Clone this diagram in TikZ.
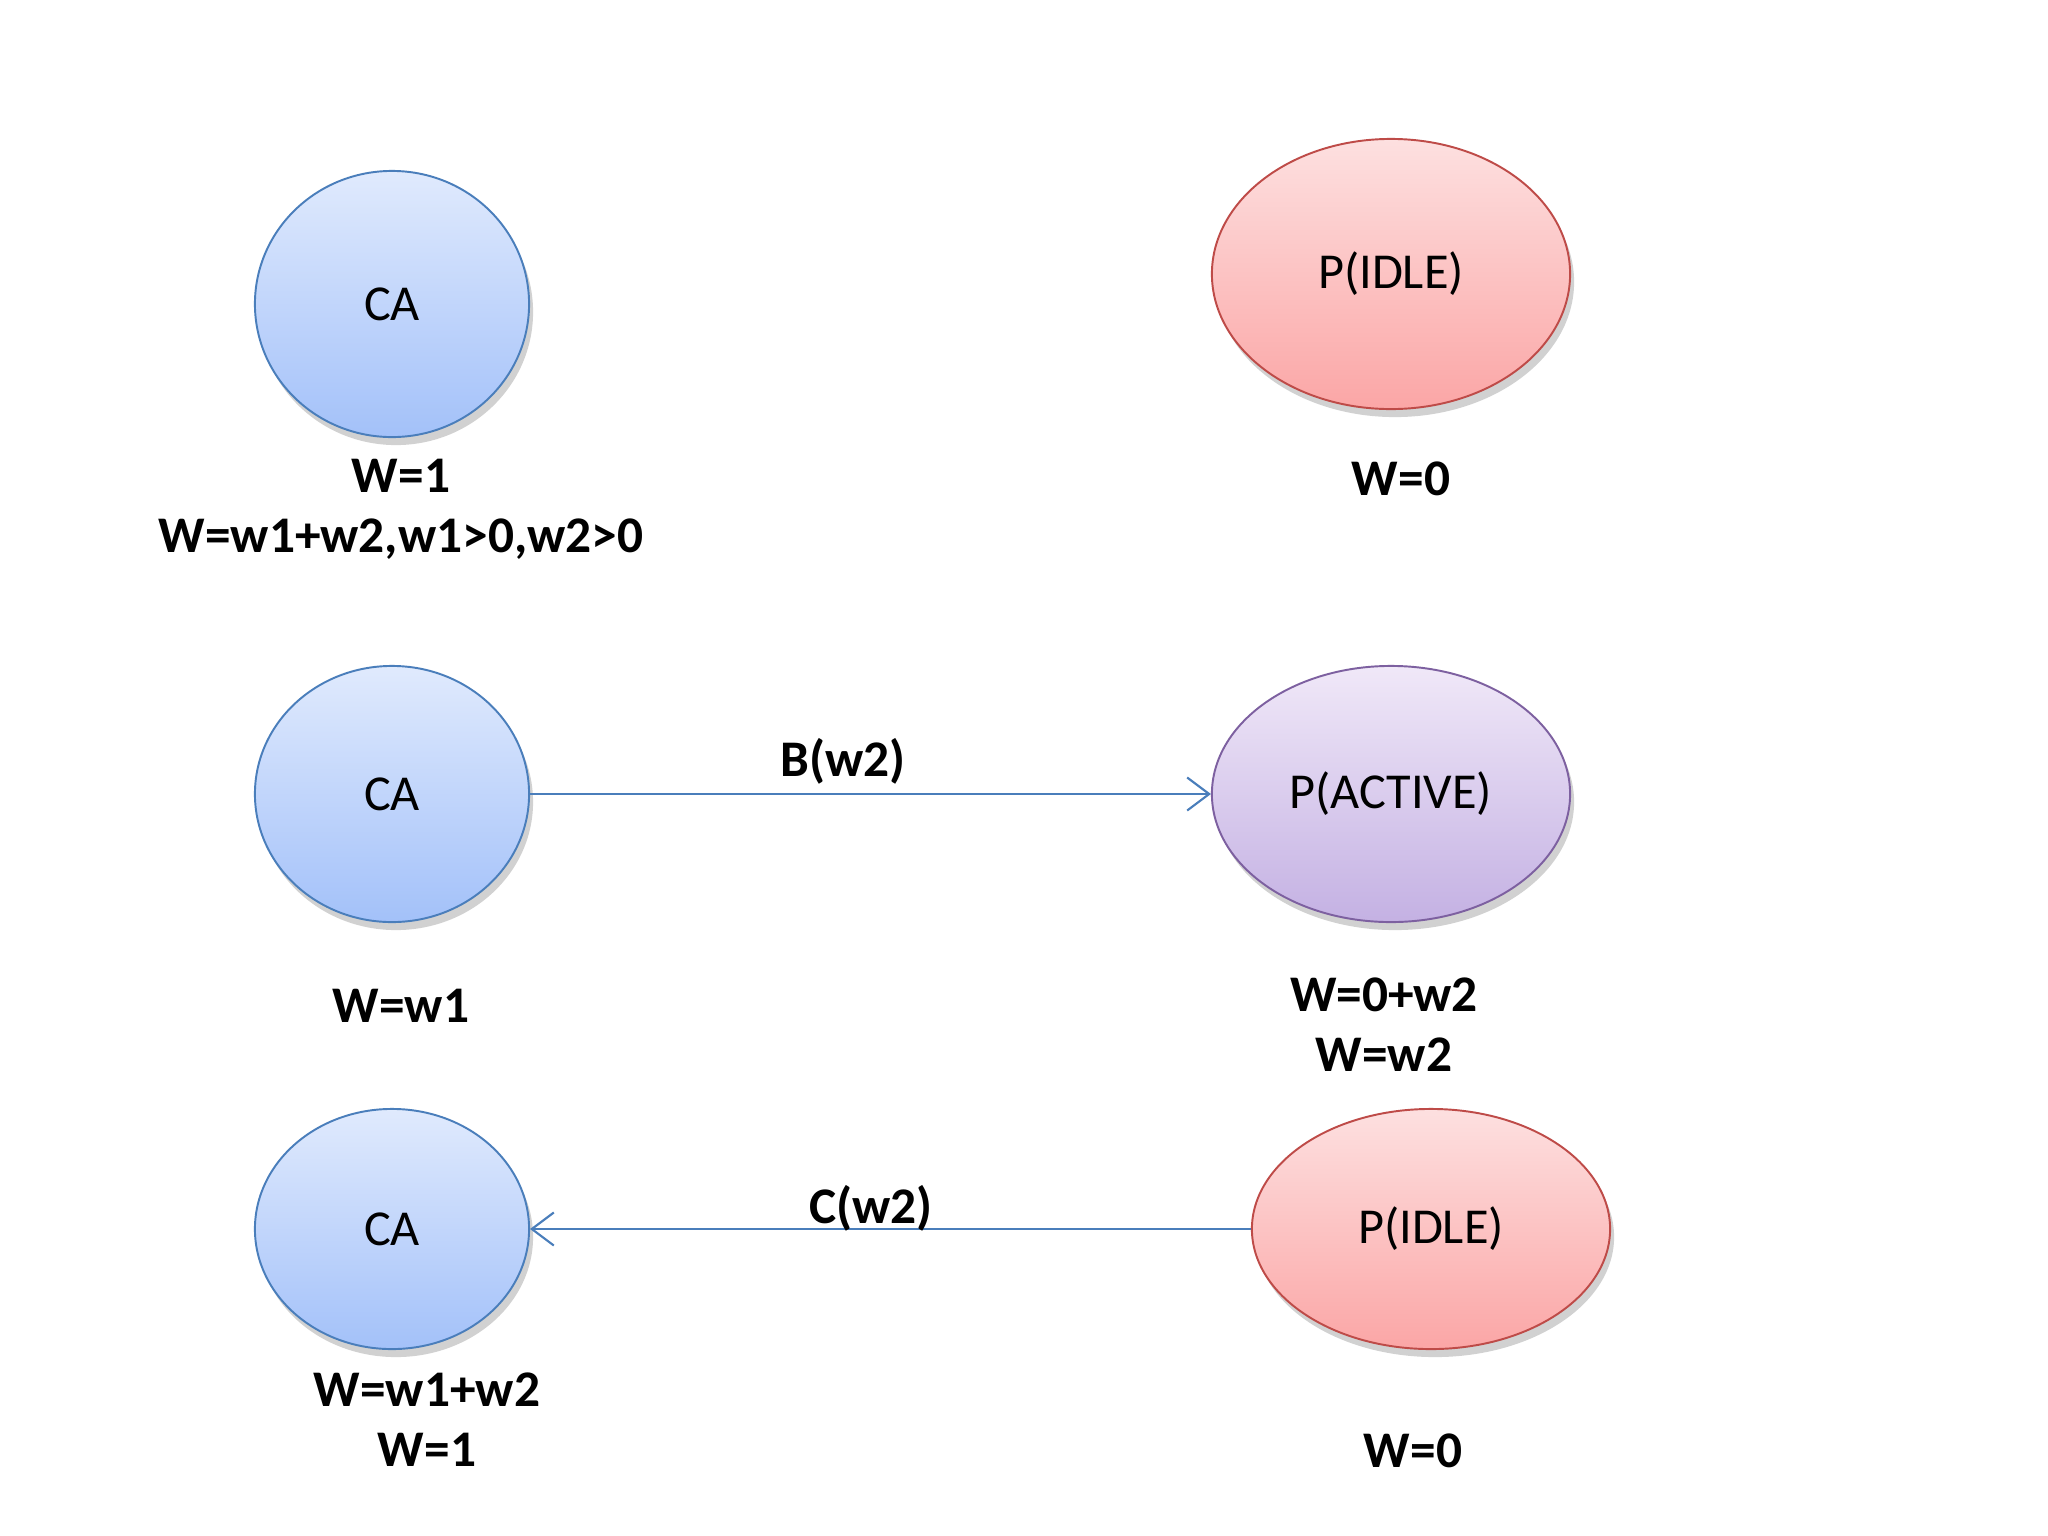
\documentclass[tikz,border=0pt]{standalone}
\usepackage{fontspec}
\setmainfont{Carlito}
\usetikzlibrary{arrows.meta,shapes.geometric,shadows}
\definecolor{caborder}{HTML}{4A7EBB}
\definecolor{catop}{HTML}{E0EAFD}
\definecolor{cabottom}{HTML}{A3C1F9}
\definecolor{idleborder}{HTML}{BE4B48}
\definecolor{idletop}{HTML}{FDE0E0}
\definecolor{idlebottom}{HTML}{FBA6A6}
\definecolor{activeborder}{HTML}{7D60A0}
\definecolor{activetop}{HTML}{F0E8F8}
\definecolor{activebottom}{HTML}{C4B1E3}
\tikzset{
    state/.style={
           ellipse,
           inner sep=0pt,
           line width=0.55pt,
           font=\fontsize{14.3}{16}\selectfont,
           drop shadow={shadow xshift=0.4mm, shadow yshift=-0.8mm,
                        fill=black, opacity=0.18},
           },
    castate/.style={
           state,
           draw=caborder,
           top color=catop, bottom color=cabottom,
           minimum width=2.74cm,
           },
    idlestate/.style={
           state,
           draw=idleborder,
           top color=idletop, bottom color=idlebottom,
           minimum width=3.58cm,
           },
    activestate/.style={
           state,
           draw=activeborder,
           top color=activetop, bottom color=activebottom,
           minimum width=3.58cm,
           },
    weight/.style={
           align=center,
           inner sep=0pt,
           font=\bfseries\fontsize{14.6}{17.1}\selectfont,
           },
    msg/.style={
           ->, >={Straight Barb[length=2.2mm,width=3.3mm]},
           draw=caborder, line width=0.6pt,
           },
}

\begin{document}
\begin{tikzpicture}[x=0.01cm,y=-0.01cm]

 \useasboundingbox (0,0) rectangle (2048,1536);

 % first row: CA and idle P
 \node[castate, minimum height=2.66cm] (CA1) at (392,304) {CA};
 \node[idlestate, minimum height=2.70cm] (P1) at (1391,274) {P(IDLE)};
 \node[weight] (WCA1) at (401,509) {W=1\\W=w1+w2,w1>0,w2>0};
 \node[weight] (WP1) at (1401,479) {W=0};

 % second row: CA sends B(w2), P becomes active
 \node[castate, minimum height=2.56cm] (CA2) at (392,794) {CA};
 \node[activestate, minimum height=2.56cm] (P2) at (1391,794) {P(ACTIVE)};
 \node[weight] (WCA2) at (401,1006) {W=w1};
 \node[weight] (WP2) at (1384,1025) {W=0+w2\\W=w2};

 % third row: P goes idle again and returns C(w2)
 \node[castate, minimum height=2.40cm] (CA3) at (392,1229) {CA};
 \node[idlestate, minimum height=2.40cm] (P3) at (1431,1229) {P(IDLE)};
 \node[weight] (WCA3) at (427,1420) {W=w1+w2\\W=1};
 \node[weight] (WP3) at (1413,1451) {W=0};

 % messages
 \path (CA2) edge[msg] node[weight, pos=0.46, above=0.9mm] (B) {B(w2)} (P2)
       (P3)  edge[msg] node[weight, pos=0.527, above=-0.3mm] (C) {C(w2)} (CA3)
 ;
\end{tikzpicture}
\end{document}
